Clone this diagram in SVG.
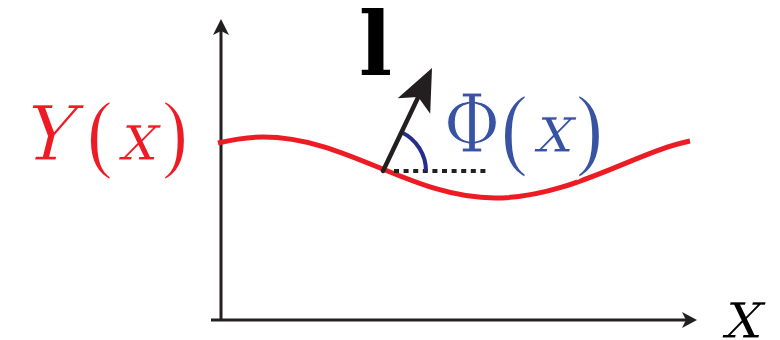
<svg xmlns="http://www.w3.org/2000/svg" width="780" height="340" viewBox="0 0 780 340">
<style>
.ax{stroke:#231F20;stroke-width:3;fill:none}
.head{fill:#231F20;stroke:none}
text{font-family:"DejaVu Serif","Liberation Serif",serif;text-anchor:middle}
.thin{stroke:#ffffff;stroke-width:1.2}
.par{stroke:#ffffff;stroke-width:2.4}
</style>
<rect width="780" height="340" fill="#ffffff"/>
<g id="axes">
  <line class="ax" x1="221" y1="320" x2="221" y2="30"/>
  <path class="head" d="M221,19 L229,35 L221,31 L213,35 Z"/>
  <line class="ax" x1="211" y1="320" x2="688" y2="320"/>
  <path class="head" d="M697,320 L682,312 L686,320 L682,328 Z"/>
</g>
<g id="curve">
  <path d="M218,143 C233,139.5 248,137 263,137 C347.3,137 410.7,198 495,198 C570,198 635,152 690,141" fill="none" stroke="#ED1C24" stroke-width="5"/>
</g>
<g id="tangent">
  <line x1="394" y1="171" x2="490" y2="171" stroke="#231F20" stroke-width="4" stroke-dasharray="5 4.6"/>
  <path d="M401.5,132.2 A43,43 0 0 1 426,171" fill="none" stroke="#262B8E" stroke-width="4"/>
  <line x1="383" y1="171" x2="418.5" y2="96.5" stroke="#231F20" stroke-width="4.5" stroke-linecap="round"/>
  <path class="head" d="M432,68 L430.2,113.7 L418.2,96.9 L397.7,98.2 Z"/>
</g>
<g id="label-l">
  <text x="375.5" y="75" font-size="88" font-weight="bold" fill="#000">l</text>
</g>
<g id="label-Y" fill="#ED1C24">
  <text class="thin" transform="translate(45,160) skewX(-14)" font-size="76">Y</text>
  <text class="par" x="100" y="167" font-size="88">(</text>
  <text class="thin" transform="translate(136,160) skewX(-14)" font-size="68">x</text>
  <text class="par" x="175" y="167" font-size="88">)</text>
</g>
<g id="label-Phi" fill="#3953A4">
  <text class="thin" transform="translate(472,152) scale(0.85,1)" font-size="81">Φ</text>
  <text class="par" x="514.5" y="164" font-size="92">(</text>
  <text class="thin" transform="translate(551.5,152) skewX(-14)" font-size="68">x</text>
  <text class="par" x="589.5" y="164" font-size="92">)</text>
</g>
<g id="label-x">
  <text class="thin" transform="translate(740,338) skewX(-14)" font-size="70" fill="#000">x</text>
</g>
</svg>
